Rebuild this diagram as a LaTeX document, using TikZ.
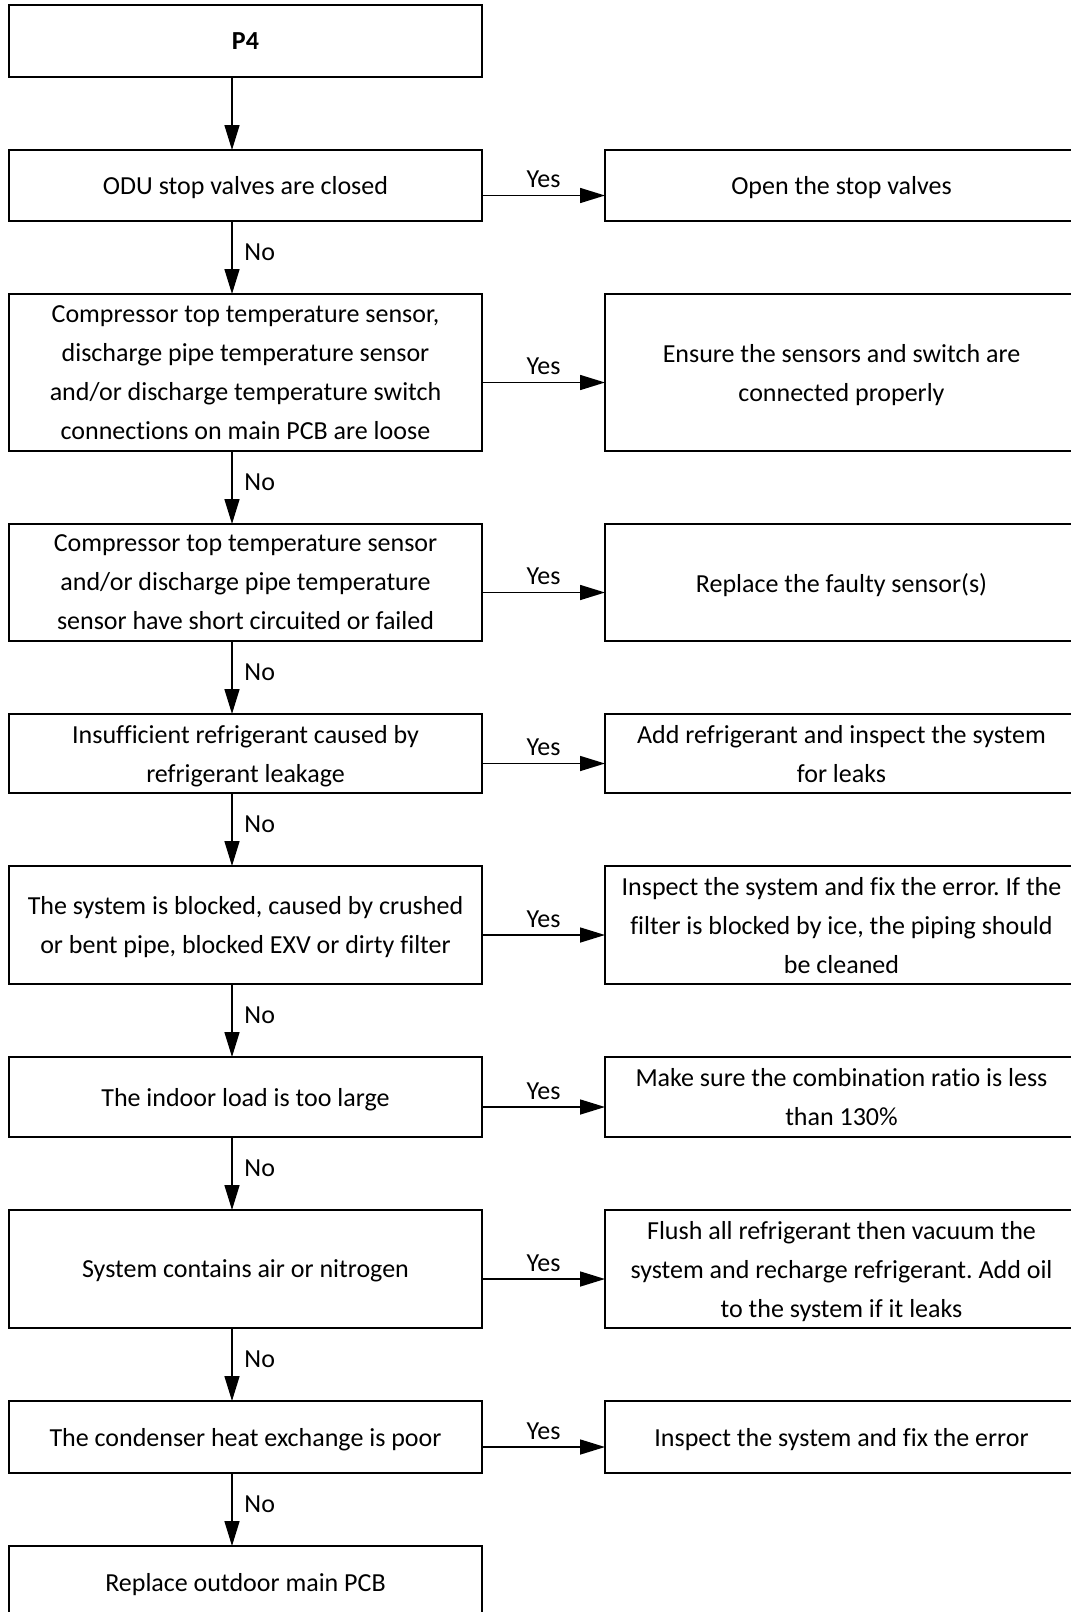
\documentclass[tikz,border=0pt]{standalone}
\usepackage{fontspec}
\setmainfont{Carlito}[Ligatures=CommonOff]
\usepackage{tikz}
\usetikzlibrary{arrows.meta, positioning}
\frenchspacing

\begin{document}
\begin{tikzpicture}[x=0.5pt, y=0.5pt, node distance=36.5pt,
        box/.style={rectangle, draw, line width=1pt, minimum width=236.5pt, inner sep=0pt, outer sep=0pt, text depth=0pt, align=center, font=\fontsize{13}{19.5}\selectfont},
        lbl/.style={font=\fontsize{13}{15}\selectfont},
        nolbl/.style={lbl, right, pos=0.43, xshift=2.5pt},
        line/.style={draw, line width=0.8pt, -{Triangle[length=12.5pt, width=7.5pt]}}]

        \useasboundingbox (0,0) rectangle (1071,-1612);

        % Left column: checks
        \node [box, minimum height=36pt, anchor=north west] (p4) at (9,-5) {\textbf{P4}};
        \node [box, minimum height=35.5pt, below=of p4] (valves) {ODU stop valves are closed};
        \node [box, minimum height=78.5pt, below=of valves] (loose) {Compressor top temperature sensor,\\discharge pipe temperature sensor\\and/or discharge temperature switch\\connections on main PCB are loose};
        \node [box, minimum height=58.5pt, below=of loose] (sensors) {Compressor top temperature sensor\\and/or discharge pipe temperature\\sensor have short circuited or failed};
        \node [box, minimum height=39.5pt, below=of sensors] (leak) {Insufficient refrigerant caused by\\refrigerant leakage};
        \node [box, minimum height=59pt, below=of leak] (blocked) {The system is blocked, caused by crushed\\or bent pipe, blocked EXV or dirty filter};
        \node [box, minimum height=40pt, below=of blocked] (load) {The indoor load is too large};
        \node [box, minimum height=59pt, below=of load] (air) {System contains air or nitrogen};
        \node [box, minimum height=36pt, below=of air] (cond) {The condenser heat exchange is poor};
        \node [box, minimum height=36pt, below=of cond] (pcb) {Replace outdoor main PCB};

        % Right column: actions
        \node [box, minimum height=35.5pt, right=61.5pt of valves] (openvalves) {Open the stop valves};
        \node [box, minimum height=78.5pt, right=61.5pt of loose] (connect) {Ensure the sensors and switch are\\connected properly};
        \node [box, minimum height=58.5pt, right=61.5pt of sensors] (replsensor) {Replace the faulty sensor(s)};
        \node [box, minimum height=39.5pt, right=61.5pt of leak] (addref) {Add refrigerant and inspect the system\\for leaks};
        \node [box, minimum height=59pt, right=61.5pt of blocked] (inspect) {Inspect the system and fix the error. If the\\filter is blocked by ice, the piping should\\be cleaned};
        \node [box, minimum height=40pt, right=61.5pt of load] (ratio) {Make sure the combination ratio is less\\than 130\%};
        \node [box, minimum height=59pt, right=61.5pt of air] (flush) {Flush all refrigerant then vacuum the\\system and recharge refrigerant. Add oil\\to the system if it leaks};
        \node [box, minimum height=36pt, right=61.5pt of cond] (fixerr) {Inspect the system and fix the error};

        % Main flow ("No" branches)
        \path [line] ([xshift=-6.75pt]p4.south) -- ([xshift=-6.75pt]valves.north);
        \path [line] ([xshift=-6.75pt]valves.south) -- node [nolbl] {No} ([xshift=-6.75pt]loose.north);
        \path [line] ([xshift=-6.75pt]loose.south) -- node [nolbl] {No} ([xshift=-6.75pt]sensors.north);
        \path [line] ([xshift=-6.75pt]sensors.south) -- node [nolbl] {No} ([xshift=-6.75pt]leak.north);
        \path [line] ([xshift=-6.75pt]leak.south) -- node [nolbl] {No} ([xshift=-6.75pt]blocked.north);
        \path [line] ([xshift=-6.75pt]blocked.south) -- node [nolbl] {No} ([xshift=-6.75pt]load.north);
        \path [line] ([xshift=-6.75pt]load.south) -- node [nolbl] {No} ([xshift=-6.75pt]air.north);
        \path [line] ([xshift=-6.75pt]air.south) -- node [nolbl] {No} ([xshift=-6.75pt]cond.north);
        \path [line] ([xshift=-6.75pt]cond.south) -- node [nolbl] {No} ([xshift=-6.75pt]pcb.north);

        % "Yes" branches
        \path [line] ([yshift=-5pt]valves.east) -- node [lbl, above] {Yes} ([yshift=-5pt]openvalves.west);
        \path [line] ([yshift=-5pt]loose.east) -- node [lbl, above] {Yes} ([yshift=-5pt]connect.west);
        \path [line] ([yshift=-5pt]sensors.east) -- node [lbl, above] {Yes} ([yshift=-5pt]replsensor.west);
        \path [line] ([yshift=-5pt]leak.east) -- node [lbl, above] {Yes} ([yshift=-5pt]addref.west);
        \path [line] ([yshift=-5pt]blocked.east) -- node [lbl, above] {Yes} ([yshift=-5pt]inspect.west);
        \path [line] ([yshift=-5pt]load.east) -- node [lbl, above] {Yes} ([yshift=-5pt]ratio.west);
        \path [line] ([yshift=-5pt]air.east) -- node [lbl, above] {Yes} ([yshift=-5pt]flush.west);
        \path [line] ([yshift=-5pt]cond.east) -- node [lbl, above] {Yes} ([yshift=-5pt]fixerr.west);
    \end{tikzpicture}
\end{document}
